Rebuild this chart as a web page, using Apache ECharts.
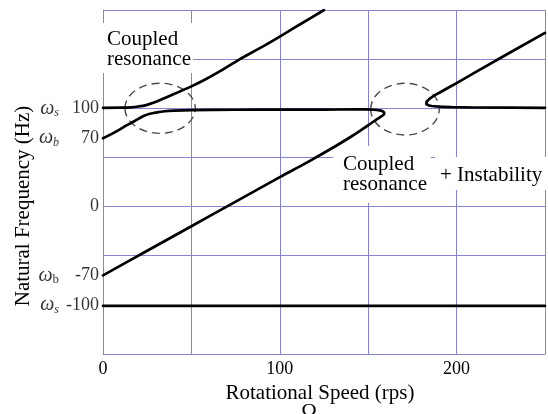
<!DOCTYPE html>
<html>
<head>
<meta charset="utf-8">
<script src="https://cdn.jsdelivr.net/npm/echarts@6/dist/echarts.min.js"></script>
<style>html,body{margin:0;padding:0;background:#fff}#c{width:548px;height:414px}</style>
</head>
<body>
<div id="c"></div>
<script>
// ---- data ----
const xTicks = [0, 100, 200];
const yTickValues = [100, 70, 0, -70, -100];
const yTickText = ['100', '70', '0', '-70', '-100'];
const yTickSym = ['s', 'b', '', 'b', 's'];

// upper coupled branch (starts at omega_s = 100)
const branchUpper = [[0,100.5],[10,100.6],[16,101],[20,101.8],[24,103],[28,105.3],[32,108.2],[36,111.2],[43,116.7],[50,122.3],[57,128.5],[65,136.5],[77,149.5],[90,162.5],[100,173],[112,186],[125,200]];
// lower coupled branch, flat near 98, turning point near 159, back down the diagonal to omega_b = -70
const branchMiddle = [[0,69.5],[5,74],[9.6,78.6],[13,82.3],[17.2,86.3],[20,89.3],[22.9,92.1],[26,94.2],[30.5,95.9],[35,97],[40,97.6],[50,98.2],[75,98.5],[100,98.6],[125,98.7],[142,98.8],[148,98.8],[153,98.5],[156.5,97.8],[158.5,96.6],[159.1,95],[158.7,93.5],[157,91.3],[154,87.8],[151,84],[146,77.8],[140,70.8],[129,58.8],[115,44.5],[100,30],[71,1],[50,-20],[25,-45],[0,-70]];
// branch after instability
const branchRight = [[250,176.8],[230,156.5],[210,136],[200,125.6],[195,120.6],[191,116.6],[188,113.6],[186,111.4],[184.6,109.6],[183.6,108],[183,106.6],[182.7,105.2],[182.9,104.1],[183.5,103.4],[184.5,102.8],[186,102.3],[188.5,101.9],[192,101.5],[197,101.1],[210,100.8],[230,100.6],[250,100.5]];
// omega_s backward
const branchBottom = [[0,-101],[250,-101]];
// dashed ellipses: centre x, centre y, radius x, radius y (data units)
const ellipses = [[32.3,100,19.9,25.5],[170.8,99.1,19.4,26.3]];

const SERIF = '"Liberation Serif", "DejaVu Serif", serif';
const GRID = '#8484cf';
const INK = '#000';

const chart = echarts.init(document.getElementById('c'), null, {renderer: 'canvas'});

function curve(data, smooth) {
  return {
    type: 'line', data: data, showSymbol: false, symbol: 'none', smooth: smooth,
    lineStyle: {color: '#000', width: 2.7, join: 'round', cap: 'round'}, z: 5, silent: true, clip: true
  };
}

const labelData = yTickValues.map((v, i) => ({value: [0, v], txt: yTickText[i], sym: yTickSym[i]}));

chart.setOption({
  animation: false,
  backgroundColor: '#fff',
  grid: {left: 103, right: 3, top: 10, bottom: 60, containLabel: false},
  xAxis: {
    type: 'value', min: 0, max: 250, interval: 50,
    axisLine: {show: true, onZero: false, lineStyle: {color: GRID, width: 1}},
    axisTick: {show: false},
    splitLine: {show: true, lineStyle: {color: GRID, width: 1}},
    axisLabel: {
      margin: 6, color: INK, fontFamily: SERIF, fontSize: 18,
      formatter: v => (xTicks.indexOf(v) >= 0 ? String(v) : '')
    },
    name: 'Rotational Speed (rps)', nameLocation: 'middle', nameGap: 21,
    nameTextStyle: {color: INK, fontFamily: SERIF, fontSize: 21, padding: [0, 8, 0, 0]}
  },
  yAxis: {
    type: 'value', min: -150, max: 200, interval: 50,
    axisLine: {show: true, onZero: false, lineStyle: {color: GRID, width: 1}},
    axisTick: {show: false},
    splitLine: {show: true, lineStyle: {color: GRID, width: 1}},
    axisLabel: {show: false}
  },
  graphic: [
    {type: 'text', z: 3, left: 100, top: 23,
      style: {text: 'Coupled\nresonance', fontFamily: SERIF, fontSize: 21, lineHeight: 20, fill: INK,
        backgroundColor: '#fff', padding: [6, 2, 4, 7]}},
    {type: 'text', z: 3, left: 333, top: 146,
      style: {text: 'Coupled\nresonance', fontFamily: SERIF, fontSize: 21, lineHeight: 20, fill: INK,
        backgroundColor: '#fff', padding: [8, 4, 9, 10]}},
    {type: 'text', z: 3, left: 435, top: 157,
      style: {text: '+ Instability', fontFamily: SERIF, fontSize: 21, lineHeight: 21, fill: INK,
        backgroundColor: '#fff', padding: [8, 6, 4, 5]}},
    {type: 'text', z: 3, x: 23, y: 206, rotation: Math.PI / 2,
      style: {text: 'Natural Frequency (Hz)', fontFamily: SERIF, fontSize: 21, fill: INK,
        align: 'center', verticalAlign: 'middle'}},
    {type: 'text', z: 3, x: 309, y: 412,
      style: {text: 'Ω', fontFamily: SERIF, fontSize: 21, fill: INK,
        align: 'center', verticalAlign: 'middle'}}
  ],
  series: [
    curve(branchUpper, 0.3),
    curve(branchMiddle, 0.3),
    curve(branchRight, false),
    curve(branchBottom, false),
    {
      type: 'custom', z: 4, silent: true, data: ellipses,
      renderItem: function (params, api) {
        const c = api.coord([api.value(0), api.value(1)]);
        const s = api.size([api.value(2), api.value(3)]);
        return {
          type: 'ellipse',
          shape: {cx: c[0], cy: c[1], rx: s[0], ry: s[1]},
          style: {fill: 'none', stroke: '#4a4a4a', lineWidth: 1.4, lineDash: [8, 5]}
        };
      }
    },
    {
      type: 'scatter', z: 6, silent: true, symbolSize: 0, data: labelData, clip: false,
      label: {
        show: true, position: 'left', distance: 4,
        formatter: function (p) {
          const d = p.data;
          if (!d.sym) return '{n|' + d.txt + '}';
          return '{w|ω}{' + (d.txt === '-70' ? 'u' : 's') + '|' + d.sym + '}{n|' + d.txt + '}';
        },
        rich: {
          w: {fontFamily: SERIF, fontStyle: 'italic', fontSize: 20, color: INK, lineHeight: 22},
          s: {fontFamily: SERIF, fontStyle: 'italic', fontSize: 12, color: INK, lineHeight: 22, verticalAlign: 'bottom', padding: [6, 0, 0, 0]},
          u: {fontFamily: SERIF, fontSize: 13, color: INK, lineHeight: 22, verticalAlign: 'bottom', padding: [6, 0, 0, 0]},
          n: {fontFamily: SERIF, fontSize: 18, color: INK, lineHeight: 22, width: 40, align: 'right'}
        }
      }
    }
  ]
});
</script>
</body>
</html>
